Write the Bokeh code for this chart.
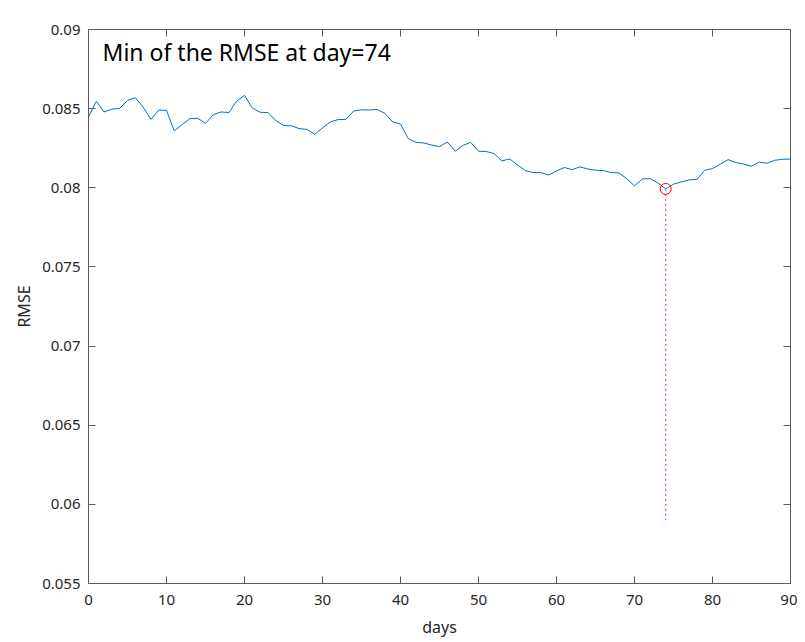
from bokeh.plotting import figure
from bokeh.models import Range1d, LinearAxis, FixedTicker, Label
from bokeh.embed import file_html
from bokeh.resources import INLINE

days = list(range(91))
rmse = [0.08447, 0.08546, 0.08479, 0.08497, 0.08502, 0.08552, 0.08569, 0.08510, 0.08432, 0.08491,
        0.08489, 0.08359, 0.08399, 0.08437, 0.08439, 0.08407, 0.08462, 0.08479, 0.08475, 0.08548,
        0.08584, 0.08504, 0.08477, 0.08475, 0.08426, 0.08393, 0.08392, 0.08374, 0.08369, 0.08338,
        0.08378, 0.08416, 0.08431, 0.08432, 0.08485, 0.08493, 0.08491, 0.08495, 0.08470, 0.08416,
        0.08403, 0.08310, 0.08287, 0.08283, 0.08270, 0.08260, 0.08289, 0.08231, 0.08268, 0.08287,
        0.08231, 0.08229, 0.08216, 0.08170, 0.08182, 0.08144, 0.08109, 0.08096, 0.08096, 0.08081,
        0.08106, 0.08128, 0.08115, 0.08132, 0.08119, 0.08111, 0.08109, 0.08096, 0.08094, 0.08058,
        0.08012, 0.08056, 0.08058, 0.08031, 0.07993, 0.08023, 0.08037, 0.08050, 0.08052, 0.08111,
        0.08121, 0.08149, 0.08178, 0.08159, 0.08150, 0.08136, 0.08163, 0.08155, 0.08174, 0.08180,
        0.08182]
x_ticks = [0, 10, 20, 30, 40, 50, 60, 70, 80, 90]
y_ticks = [0.055, 0.06, 0.065, 0.07, 0.075, 0.08, 0.085, 0.09]
y_tick_labels = ["0.055", "0.06", "0.065", "0.07", "0.075", "0.08", "0.085", "0.09"]
drop_to = 0.059
title_text = "Mean"
x_label = "days"
y_label = "RMSE"

min_idx = min(range(len(rmse)), key=lambda i: rmse[i])
min_day = days[min_idx]
min_val = rmse[min_idx]

FONT = "Noto Sans"
AX = "#5a5a5a"
TXT = "#262626"

p = figure(width=797, height=640, x_range=Range1d(0, 90), y_range=Range1d(0.055, 0.09),
           output_backend="svg", toolbar_location=None,
           min_border_left=88, min_border_right=7, min_border_top=29, min_border_bottom=50)
p.outline_line_color = None
p.grid.visible = False
p.background_fill_color = "white"
p.border_fill_color = "white"

def style(ax, labels=True):
    ax.axis_line_color = AX
    ax.axis_line_width = 1
    ax.major_tick_line_color = AX
    ax.major_tick_in = 7
    ax.major_tick_out = 0
    ax.minor_tick_line_color = None
    ax.major_label_text_font = FONT
    ax.major_label_text_color = TXT
    ax.major_label_text_font_size = "15px"
    ax.major_label_standoff = 8 if labels else 0
    ax.axis_label_text_font = FONT
    ax.axis_label_text_font_style = "normal"
    ax.axis_label_text_color = TXT
    ax.axis_label_text_font_size = "16px"
    if not labels:
        ax.major_label_overrides = {t: "" for t in ax.ticker.ticks}

p.xaxis.ticker = FixedTicker(ticks=x_ticks)
p.yaxis.ticker = FixedTicker(ticks=y_ticks)
p.yaxis.major_label_overrides = {t: l for t, l in zip(y_ticks, y_tick_labels)}
style(p.xaxis[0])
style(p.yaxis[0])
p.xaxis.axis_label = x_label
p.yaxis.axis_label = y_label
p.xaxis.major_label_standoff = 11
p.xaxis.axis_label_standoff = 8
p.yaxis.axis_label_standoff = 4

top = LinearAxis(ticker=FixedTicker(ticks=x_ticks))
right = LinearAxis(ticker=FixedTicker(ticks=y_ticks))
style(top, False)
style(right, False)
p.add_layout(top, "above")
p.add_layout(right, "right")

p.line(days, rmse, line_color="#0072BD", line_width=1)
p.segment(x0=[min_day], y0=[min_val], x1=[min_day], y1=[drop_to],
          line_color="#FF00FF", line_width=1, line_dash="2 3")
p.scatter([min_day], [min_val], marker="circle", size=11, fill_color=None,
          line_color="#FF0000", line_width=1)

p.add_layout(Label(x=1.8, y=0.08855, text=f"Min of the RMSE at day={min_day}",
                   text_font=FONT, text_font_size="23px", text_color="black",
                   text_baseline="alphabetic", text_align="left"))
p.add_layout(Label(x=45, y=0.09, y_offset=8, text=title_text, text_font=FONT,
                   text_font_size="16px", text_font_style="bold", text_color="black",
                   text_baseline="alphabetic", text_align="center"))

open("out.html", "w").write(file_html(p, INLINE))
